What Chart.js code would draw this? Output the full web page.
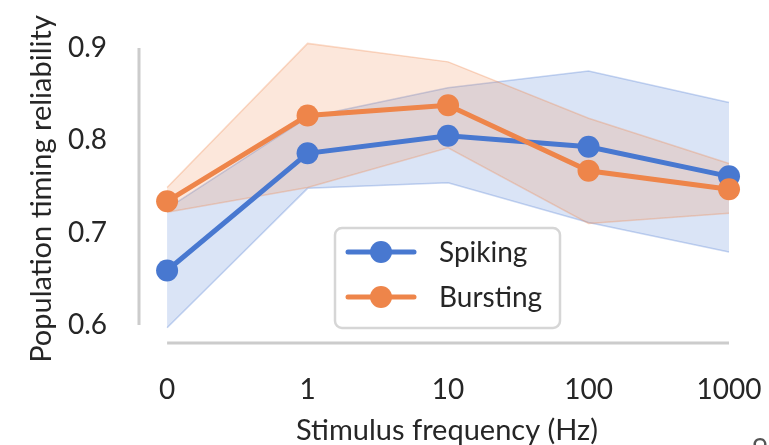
<!DOCTYPE html>
<html>
<head>
<meta charset="utf-8">
<script src="https://cdn.jsdelivr.net/npm/chart.js@4"></script>
<style>
  html, body { margin: 0; padding: 0; background: #ffffff; }
  #wrap { width: 769px; height: 445px; position: relative; }
</style>
</head>
<body>
<div id="wrap"><canvas id="chart"></canvas></div>
<script>
const xLabels = ['0', '1', '10', '100', '1000'];
const yTicks = [0.6, 0.7, 0.8, 0.9];

const spiking = [0.659, 0.786, 0.805, 0.793, 0.761];
const spikingLower = [0.597, 0.748, 0.754, 0.711, 0.679];
const spikingUpper = [0.726, 0.825, 0.857, 0.875, 0.841];

const bursting = [0.734, 0.827, 0.838, 0.767, 0.747];
const burstingLower = [0.722, 0.749, 0.792, 0.710, 0.721];
const burstingUpper = [0.749, 0.905, 0.885, 0.824, 0.775];

const BLUE = '#4878d0';
const ORANGE = '#ee854a';
const TEXT = '#262626';
const SPINE = '#cccccc';
const FONT = 'Lato, "Open Sans", sans-serif';

function points(values) {
  return values.map((y, x) => ({x, y}));
}

function lineDataset(label, values, color, order) {
  return {
    label,
    data: points(values),
    borderColor: color,
    backgroundColor: color,
    borderWidth: 5,
    pointRadius: 11,
    pointBorderWidth: 0,
    pointBackgroundColor: color,
    order,
    clip: false,
  };
}

function bandDataset(values, rgb, order, fill) {
  return {
    label: '',
    data: points(values),
    borderColor: `rgba(${rgb}, 0.3)`,
    backgroundColor: `rgba(${rgb}, 0.2)`,
    borderWidth: 1.5,
    pointRadius: 0,
    fill,
    order,
  };
}

// invisible tick marks push the labels away from the axis
// without feeding ticks.padding into the layout
function hiddenTicks(length) {
  return {
    display: true,
    drawOnChartArea: false,
    drawTicks: true,
    tickLength: length,
    color: 'rgba(0,0,0,0)',
  };
}

// trimmed, offset spines like seaborn's despine(trim=True)
const spinePlugin = {
  id: 'spines',
  beforeDatasetsDraw(chart) {
    const {ctx, chartArea, scales} = chart;
    ctx.save();
    ctx.strokeStyle = SPINE;
    ctx.lineWidth = 3;
    ctx.beginPath();
    ctx.moveTo(chartArea.left, scales.y.getPixelForValue(yTicks[yTicks.length - 1]));
    ctx.lineTo(chartArea.left, scales.y.getPixelForValue(yTicks[0]));
    ctx.moveTo(scales.x.getPixelForValue(0), chartArea.bottom);
    ctx.lineTo(scales.x.getPixelForValue(xLabels.length - 1), chartArea.bottom);
    ctx.stroke();
    ctx.restore();
  },
};

const legendBox = {left: 335, top: 228, width: 225, height: 100};
const legendPlugin = {
  id: 'boxLegend',
  afterDatasetsDraw(chart) {
    const {ctx} = chart;
    const entries = [chart.data.datasets[0], chart.data.datasets[1]];
    ctx.save();
    ctx.beginPath();
    ctx.roundRect(legendBox.left, legendBox.top, legendBox.width, legendBox.height, 7);
    ctx.fillStyle = 'rgba(255,255,255,0.85)';
    ctx.fill();
    ctx.strokeStyle = '#d6d6d6';
    ctx.lineWidth = 2.5;
    ctx.stroke();
    entries.forEach((ds, i) => {
      const y = legendBox.top + 24 + i * 45;
      ctx.strokeStyle = ds.borderColor;
      ctx.lineWidth = 5;
      ctx.lineCap = 'round';
      ctx.beginPath();
      ctx.moveTo(legendBox.left + 13, y);
      ctx.lineTo(legendBox.left + 79, y);
      ctx.stroke();
      ctx.fillStyle = ds.borderColor;
      ctx.beginPath();
      ctx.arc(legendBox.left + 46, y, 11, 0, Math.PI * 2);
      ctx.fill();
      ctx.fillStyle = TEXT;
      ctx.font = `28px ${FONT}`;
      ctx.textBaseline = 'middle';
      ctx.textAlign = 'left';
      ctx.fillText(ds.label, legendBox.left + 104, y + 1);
    });
    // clipped page number peeking in at the corner
    ctx.fillStyle = '#555555';
    ctx.textAlign = 'center';
    ctx.textBaseline = 'top';
    ctx.fillText('9', 760, 436);
    ctx.restore();
  },
};

const datasets = [
  lineDataset('Spiking', spiking, BLUE, 1),
  lineDataset('Bursting', bursting, ORANGE, 0),
  bandDataset(spikingLower, '72, 120, 208', 4, false),
  bandDataset(spikingUpper, '72, 120, 208', 5, 2),
  bandDataset(burstingLower, '238, 133, 74', 2, false),
  bandDataset(burstingUpper, '238, 133, 74', 3, 4),
];

new Chart(document.getElementById('chart'), {
  type: 'line',
  data: {datasets},
  plugins: [spinePlugin, legendPlugin],
  options: {
    responsive: true,
    maintainAspectRatio: false,
    animation: false,
    layout: {padding: {top: 35, right: 14, left: 0, bottom: 0}},
    plugins: {
      legend: {display: false},
      tooltip: {enabled: false},
    },
    scales: {
      x: {
        type: 'linear',
        min: -0.2,
        max: 4.185,
        afterBuildTicks: scale => {
          scale.ticks = xLabels.map((_, i) => ({value: i}));
        },
        afterFit: scale => { scale.height = 102; },
        grid: hiddenTicks(30),
        border: {display: false},
        ticks: {
          padding: 0,
          color: TEXT,
          font: {family: FONT, size: 28},
          callback: value => xLabels[value],
        },
        title: {
          display: true,
          text: 'Stimulus frequency (Hz)',
          color: TEXT,
          font: {family: FONT, size: 29, lineHeight: 1},
          padding: 0,
        },
      },
      y: {
        min: 0.5805,
        max: 0.9141,
        afterBuildTicks: scale => {
          scale.ticks = yTicks.map(value => ({value}));
        },
        afterFit: scale => { scale.width = 139; },
        grid: hiddenTicks(30),
        border: {display: false},
        ticks: {
          padding: 2,
          color: TEXT,
          font: {family: FONT, size: 28},
          callback: value => value.toFixed(1),
        },
        title: {
          display: true,
          text: 'Population timing reliability',
          color: TEXT,
          font: {family: FONT, size: 29, lineHeight: 1},
          padding: {top: 27, bottom: 0},
        },
      },
    },
  },
});
</script>
</body>
</html>
